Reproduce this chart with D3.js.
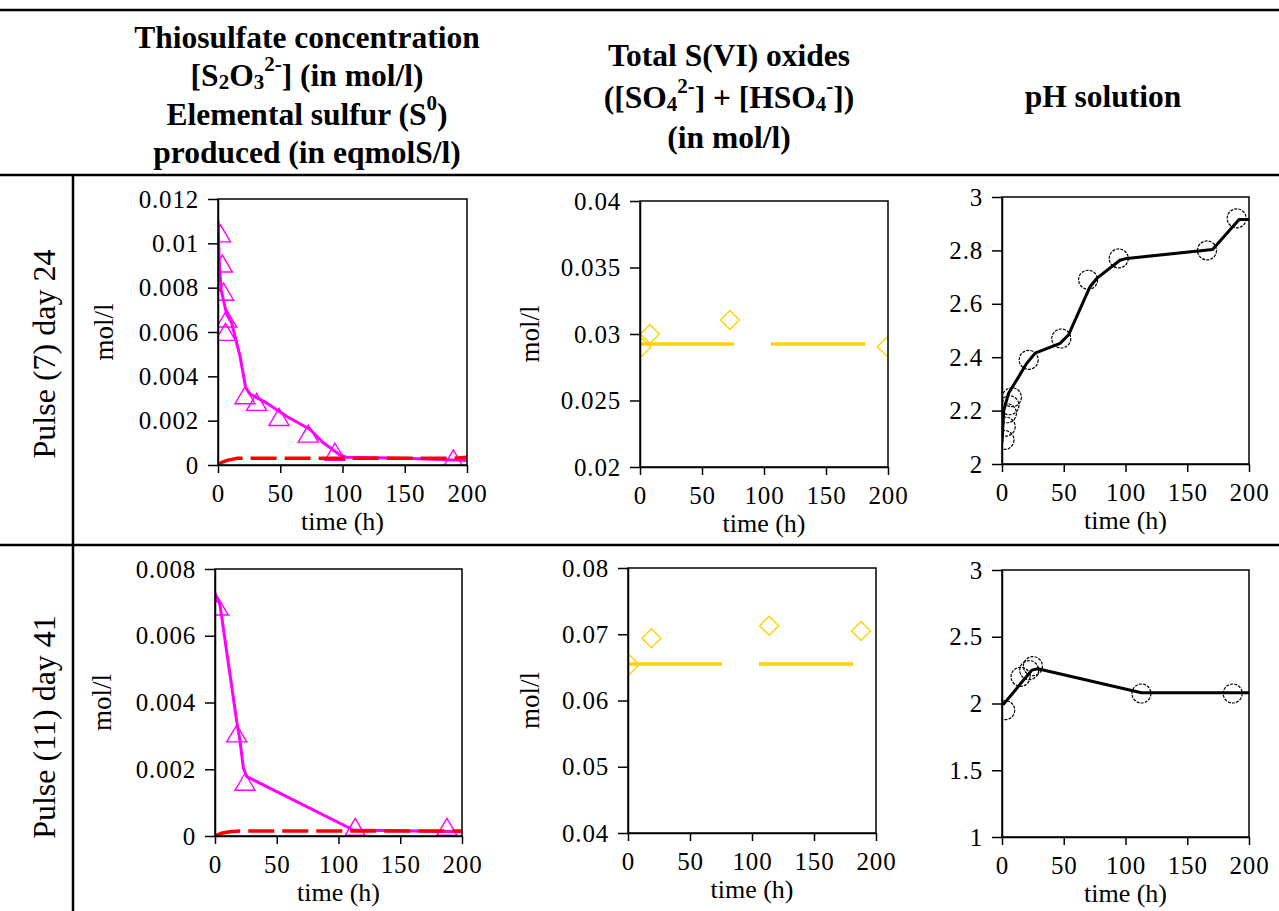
<!DOCTYPE html>
<html><head><meta charset="utf-8">
<script src="https://cdn.jsdelivr.net/npm/d3@7"></script>
<style>
body{margin:0;background:#fff}
svg{display:block}
text{font-family:"Liberation Serif","Times New Roman",serif;fill:#000}
</style>
</head><body>
<svg id="c" width="1279" height="911"></svg>
<script>
// ---------------- DATA ----------------
const timeTicks = [0, 50, 100, 150, 200];
const rowLabels = ["Pulse (7) day 24", "Pulse (11) day 41"];

// Pulse 7 – thiosulfate (observed triangles, model line) and elemental sulfur (dashed)
const thioObsT7 = [2, 3.5, 4.5, 7, 6, 21.7, 31, 49, 72.5, 94, 189];
const thioObsV7 = [0.01038, 0.00902, 0.00775, 0.00654, 0.00594, 0.00308, 0.00278, 0.0021, 0.00135, 0.00053, 0.00023];
const thioModT7 = [0, 1, 2.5, 7, 11, 13.7, 17.7, 22.2, 25.7, 39, 55, 74, 84.6, 98, 103, 150, 200];
const thioModV7 = [0.0110, 0.0092, 0.0079, 0.0068, 0.0064, 0.0058, 0.0049, 0.0035, 0.0032, 0.0028, 0.0022, 0.0016, 0.0010, 0.00045, 0.00035, 0.0003, 0.0002];
const sulfT7 = [0, 3, 8, 15, 50, 100, 150, 190, 200];
const sulfV7 = [0, 0.00012, 0.00022, 0.0003, 0.0003, 0.0003, 0.0003, 0.0003, 0.00035];
const thioTicks7 = [0, 0.002, 0.004, 0.006, 0.008, 0.01, 0.012];

// Pulse 11
const thioObsT11 = [2.7, 17.6, 24.3, 113.5, 187.8];
const thioObsV11 = [0.00683, 0.00303, 0.00158, 0.00023, 0.00023];
const thioModT11 = [0, 4, 17.6, 20.3, 23, 25.7, 112, 200];
const thioModV11 = [0.00728, 0.00693, 0.00343, 0.00283, 0.00203, 0.00178, 0.00018, 0.00013];
const sulfT11 = [0, 5, 12, 20, 200];
const sulfV11 = [0, 0.00008, 0.00013, 0.00015, 0.00015];
const thioTicks11 = [0, 0.002, 0.004, 0.006, 0.008];

// Total S(VI) oxides
const sulfateObsT7 = [1, 8, 72.6, 199];
const sulfateObsV7 = [0.0290, 0.0300, 0.03105, 0.02905];
const sulfateModT7 = [0, 200];
const sulfateModV7 = [0.02925, 0.02925];
const sulfateTicks7 = [0.02, 0.025, 0.03, 0.035, 0.04];

const sulfateObsT11 = [1.4, 18.9, 113.8, 187.9];
const sulfateObsV11 = [0.0654, 0.0694, 0.0713, 0.0705];
const sulfateModT11 = [0, 200];
const sulfateModV11 = [0.0655, 0.0655];
const sulfateTicks11 = [0.04, 0.05, 0.06, 0.07, 0.08];

// pH
const phObsT7 = [2, 3, 4, 6, 8, 21.6, 48, 69.7, 94.5, 166, 190];
const phObsV7 = [2.09, 2.14, 2.19, 2.22, 2.25, 2.39, 2.47, 2.69, 2.77, 2.80, 2.92];
const phModT7 = [0, 1.4, 5.3, 12, 20, 26.8, 47, 53.8, 71.3, 76.7, 95.5, 101, 170.5, 192, 200];
const phModV7 = [2.08, 2.2, 2.265, 2.315, 2.377, 2.415, 2.452, 2.483, 2.664, 2.695, 2.763, 2.77, 2.803, 2.916, 2.916];
const phTicks7 = [2, 2.2, 2.4, 2.6, 2.8, 3];

const phObsT11 = [2.6, 15, 22, 25, 112.9, 186.8];
const phObsV11 = [1.95, 2.2, 2.25, 2.28, 2.075, 2.075];
const phModT11 = [0.8, 24.2, 29, 112.9, 200];
const phModV11 = [1.99, 2.25, 2.26, 2.08, 2.08];
const phTicks11 = [1, 1.5, 2, 2.5, 3];

// ---------------- DRAWING ----------------
const svg = d3.select("#c");
const zip = (t, v) => t.map((d, i) => [d, v[i]]);
const fmt = d3.format("~g");

// table rules
const rules = svg.append("g").attr("stroke", "#000").attr("stroke-width", 2.5);
rules.append("line").attr("x1", 0).attr("x2", 1279).attr("y1", 10).attr("y2", 10);
rules.append("line").attr("x1", 0).attr("x2", 1279).attr("y1", 175).attr("y2", 175);
rules.append("line").attr("x1", 0).attr("x2", 1279).attr("y1", 545).attr("y2", 545);
rules.append("line").attr("x1", 73).attr("x2", 73).attr("y1", 175).attr("y2", 911);

// header rich text
function richLine(x, y, parts) {
  const t = svg.append("text").attr("x", x).attr("y", y)
    .attr("text-anchor", "middle").attr("dominant-baseline", "central")
    .attr("font-weight", "bold").attr("font-size", 31.5);
  let shift = 0;
  parts.forEach(p => {
    const s = typeof p === "string" ? {t: p} : p;
    const target = s.sub ? 7 : s.sup ? -11 : 0;
    const ts = t.append("tspan").text(s.t).attr("dy", target - shift);
    if (s.sub || s.sup) ts.attr("font-size", 21);
    shift = target;
  });
}
const c1 = 307, c2 = 729, c3 = 1103;
richLine(c1, 37, ["Thiosulfate concentration"]);
richLine(c1, 75, ["[S", {t: "2", sub: 1}, "O", {t: "3", sub: 1}, {t: "2-", sup: 1}, "] (in mol/l)"]);
richLine(c1, 114, ["Elemental sulfur (S", {t: "0", sup: 1}, ")"]);
richLine(c1, 152, ["produced (in eqmolS/l)"]);
richLine(c2, 55, ["Total S(VI) oxides"]);
richLine(c2, 97, ["([SO", {t: "4", sub: 1}, {t: "2-", sup: 1}, "] + [HSO", {t: "4", sub: 1}, {t: "-", sup: 1}, "])"]);
richLine(c2, 137, ["(in mol/l)"]);
richLine(c3, 96, ["pH solution"]);

// row labels
[[44, 354], [44, 727]].forEach((p, i) => {
  svg.append("text").attr("transform", `translate(${p[0]},${p[1]}) rotate(-90)`)
    .attr("text-anchor", "middle").attr("dominant-baseline", "central")
    .attr("font-size", 32).text(rowLabels[i]);
});

let clipId = 0;
function panel(cfg) {
  const x = d3.scaleLinear([0, 200], [cfg.x0, cfg.x1]);
  const y = d3.scaleLinear(cfg.yDomain, [cfg.y1, cfg.y0]);
  const g = svg.append("g");
  const id = "clip" + (clipId++);
  svg.append("clipPath").attr("id", id).append("rect")
    .attr("x", cfg.x0).attr("y", cfg.y0).attr("width", cfg.x1 - cfg.x0).attr("height", cfg.y1 - cfg.y0);
  const plot = g.append("g").attr("clip-path", `url(#${id})`);
  const line = d3.line().x(d => x(d[0])).y(d => y(d[1]));

  cfg.series.forEach(s => {
    if (s.type === "line") {
      plot.append("path").attr("d", line(s.data)).attr("fill", "none")
        .attr("stroke", s.color).attr("stroke-width", s.width)
        .attr("stroke-dasharray", s.dash || null)
        .attr("stroke-linejoin", "round");
    } else {
      const sym = plot.append("g");
      s.data.forEach(d => {
        const cx = x(d[0]), cy = y(d[1]);
        let path;
        if (s.type === "tri") path = `M${cx},${cy - 10}L${cx + 10},${cy + 7}L${cx - 10},${cy + 7}Z`;
        else if (s.type === "dia") path = `M${cx},${cy - 9.5}L${cx + 9.5},${cy}L${cx},${cy + 9.5}L${cx - 9.5},${cy}Z`;
        if (s.type === "circ") {
          sym.append("circle").attr("cx", cx).attr("cy", cy).attr("r", 9.5)
            .attr("fill", "none").attr("stroke", s.color).attr("stroke-width", 1.2)
            .attr("stroke-dasharray", "3,1.2");
        } else {
          sym.append("path").attr("d", path).attr("fill", "none")
            .attr("stroke", s.color).attr("stroke-width", 1.4);
        }
      });
    }
  });

  // box
  g.append("rect").attr("x", cfg.x0).attr("y", cfg.y0)
    .attr("width", cfg.x1 - cfg.x0).attr("height", cfg.y1 - cfg.y0)
    .attr("fill", "none").attr("stroke", "#000").attr("stroke-width", 1.5);

  const ax = g.append("g").attr("transform", `translate(0,${cfg.y1})`)
    .call(d3.axisBottom(x).tickValues(timeTicks).tickSize(8).tickSizeOuter(0).tickPadding(11).tickFormat(fmt));
  const ay = g.append("g").attr("transform", `translate(${cfg.x0},0)`)
    .call(d3.axisLeft(y).tickValues(cfg.yTicks).tickSize(10).tickSizeOuter(0).tickPadding(9).tickFormat(fmt));
  [ax, ay].forEach(a => {
    a.select(".domain").attr("stroke", "#000").attr("stroke-width", 1.5);
    a.selectAll(".tick line").attr("stroke", "#000").attr("stroke-width", 1.5);
    a.selectAll(".tick text").attr("font-family", '"Liberation Serif","Times New Roman",serif')
      .attr("font-size", 25).attr("fill", "#111").attr("letter-spacing", 0.8);
  });

  g.append("text").attr("x", (cfg.x0 + cfg.x1) / 2).attr("y", cfg.y1 + 56)
    .attr("text-anchor", "middle").attr("dominant-baseline", "central")
    .attr("font-size", 26).text("time (h)");
  if (cfg.yLabelX) {
    g.append("text").attr("transform", `translate(${cfg.yLabelX},${(cfg.y0 + cfg.y1) / 2}) rotate(-90)`)
      .attr("text-anchor", "middle").attr("dominant-baseline", "central")
      .attr("font-size", 27).text("mol/l");
  }
}

const MAG = "#ff00ff", RED = "#ff0000", GOLD = "#ffd200", BLK = "#000";

panel({x0: 218, x1: 467, y0: 199, y1: 465, yDomain: [0, 0.012], yTicks: thioTicks7, yLabelX: 104,
  series: [
    {type: "line", data: zip(thioModT7, thioModV7), color: MAG, width: 3},
    {type: "tri", data: zip(thioObsT7, thioObsV7), color: MAG},
    {type: "line", data: zip(sulfT7, sulfV7), color: RED, width: 3.5, dash: "26,8"}
  ]});
panel({x0: 640, x1: 888, y0: 201, y1: 467, yDomain: [0.02, 0.04], yTicks: sulfateTicks7, yLabelX: 530,
  series: [
    {type: "line", data: zip(sulfateModT7, sulfateModV7), color: GOLD, width: 3.5, dash: "94,37"},
    {type: "dia", data: zip(sulfateObsT7, sulfateObsV7), color: GOLD}
  ]});
panel({x0: 1002, x1: 1249, y0: 197, y1: 464, yDomain: [2, 3], yTicks: phTicks7,
  series: [
    {type: "line", data: zip(phModT7, phModV7), color: BLK, width: 3},
    {type: "circ", data: zip(phObsT7, phObsV7), color: BLK}
  ]});
panel({x0: 215, x1: 462, y0: 569, y1: 836, yDomain: [0, 0.008], yTicks: thioTicks11, yLabelX: 102,
  series: [
    {type: "line", data: zip(thioModT11, thioModV11), color: MAG, width: 3},
    {type: "tri", data: zip(thioObsT11, thioObsV11), color: MAG},
    {type: "line", data: zip(sulfT11, sulfV11), color: RED, width: 3.5, dash: "26,8"}
  ]});
panel({x0: 628, x1: 876, y0: 568, y1: 833, yDomain: [0.04, 0.08], yTicks: sulfateTicks11, yLabelX: 530,
  series: [
    {type: "line", data: zip(sulfateModT11, sulfateModV11), color: GOLD, width: 3.5, dash: "94,37"},
    {type: "dia", data: zip(sulfateObsT11, sulfateObsV11), color: GOLD}
  ]});
panel({x0: 1002, x1: 1249, y0: 570, y1: 837, yDomain: [1, 3], yTicks: phTicks11,
  series: [
    {type: "line", data: zip(phModT11, phModV11), color: BLK, width: 3},
    {type: "circ", data: zip(phObsT11, phObsV11), color: BLK}
  ]});
</script>
</body></html>
